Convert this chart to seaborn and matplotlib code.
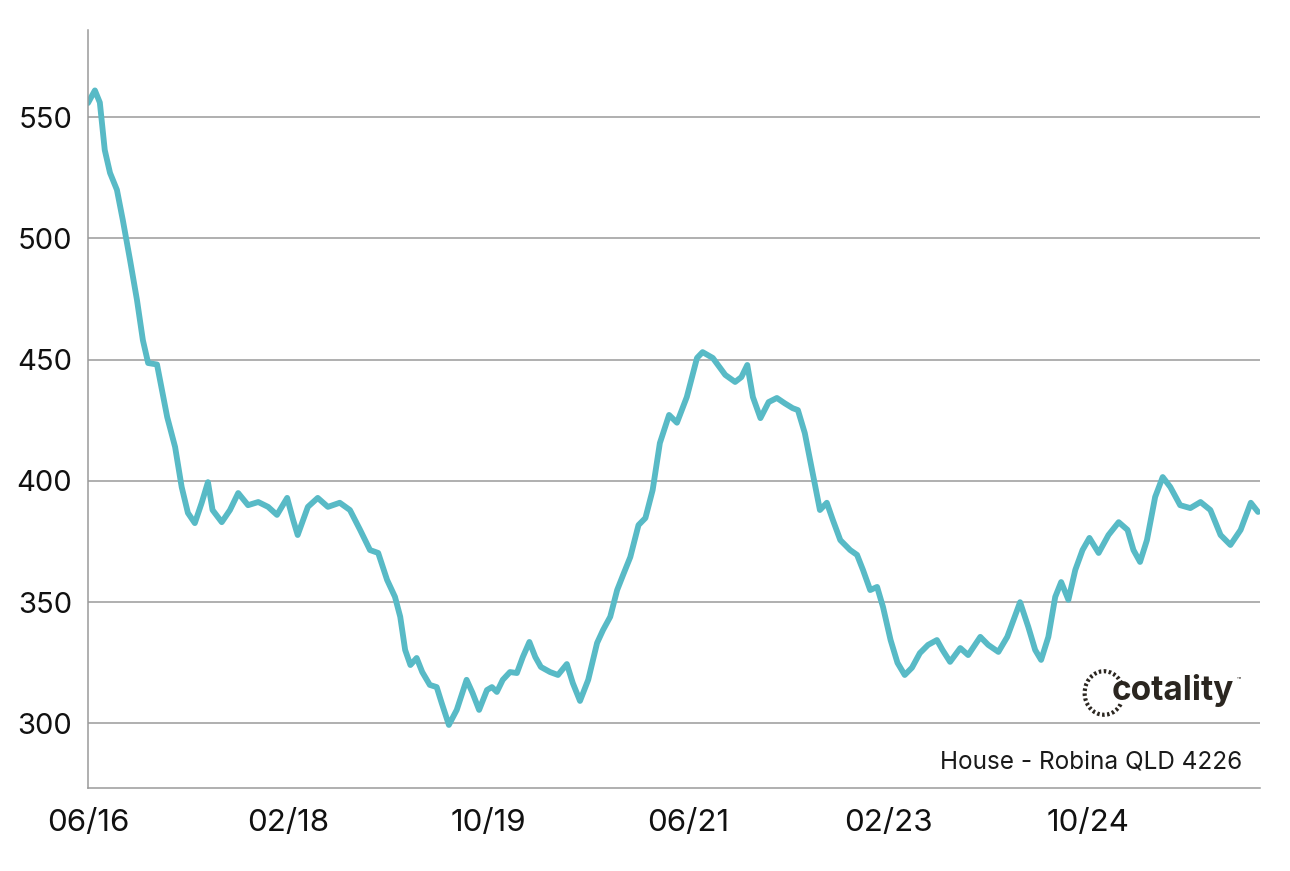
import matplotlib
matplotlib.use("Agg")
import matplotlib.pyplot as plt
from matplotlib.patches import Arc
import seaborn as sns
import pandas as pd

dates = [
    "2016-06-01", "2016-06-22", "2016-07-07", "2016-07-22", "2016-08-07", "2016-08-28",
    "2016-09-15", "2016-10-07", "2016-10-28", "2016-11-15", "2016-12-01", "2016-12-28",
    "2017-01-28", "2017-02-21", "2017-03-13", "2017-04-01", "2017-04-22", "2017-05-13",
    "2017-06-01", "2017-06-15", "2017-07-13", "2017-08-07", "2017-09-01", "2017-10-01",
    "2017-11-01", "2017-12-01", "2017-12-28", "2018-01-28", "2018-02-15", "2018-03-01",
    "2018-04-01", "2018-05-01", "2018-06-01", "2018-07-07", "2018-08-07", "2018-09-07",
    "2018-10-07", "2018-11-01", "2018-11-28", "2018-12-22", "2019-01-07", "2019-01-22",
    "2019-02-07", "2019-02-26", "2019-03-15", "2019-04-07", "2019-04-28", "2019-05-13",
    "2019-06-04", "2019-06-28", "2019-07-28", "2019-08-15", "2019-09-04", "2019-09-28",
    "2019-10-13", "2019-10-28", "2019-11-15", "2019-12-07", "2019-12-28", "2020-01-15",
    "2020-02-04", "2020-02-22", "2020-03-10", "2020-04-07", "2020-05-01", "2020-05-28",
    "2020-06-15", "2020-07-07", "2020-08-01", "2020-08-28", "2020-09-15", "2020-10-07",
    "2020-10-28", "2020-11-15", "2020-12-07", "2021-01-01", "2021-01-22", "2021-02-13",
    "2021-03-07", "2021-04-04", "2021-04-28", "2021-05-28", "2021-06-28", "2021-07-15",
    "2021-08-15", "2021-09-22", "2021-10-22", "2021-11-10", "2021-11-28", "2021-12-15",
    "2022-01-07", "2022-02-01", "2022-02-26", "2022-03-22", "2022-04-15", "2022-05-01",
    "2022-05-22", "2022-06-13", "2022-07-07", "2022-07-28", "2022-08-15", "2022-09-07",
    "2022-10-07", "2022-10-28", "2022-11-15", "2022-12-07", "2022-12-28", "2023-01-15",
    "2023-02-07", "2023-02-28", "2023-03-22", "2023-04-13", "2023-05-07", "2023-06-01",
    "2023-06-28", "2023-07-15", "2023-08-07", "2023-09-07", "2023-10-01", "2023-11-07",
    "2023-12-01", "2024-01-01", "2024-01-28", "2024-03-07", "2024-04-01", "2024-04-22",
    "2024-05-10", "2024-06-01", "2024-06-22", "2024-07-10", "2024-08-01", "2024-08-22",
    "2024-09-13", "2024-10-04", "2024-11-01", "2024-12-01", "2025-01-01", "2025-01-28",
    "2025-02-15", "2025-03-07", "2025-03-28", "2025-04-22", "2025-05-15", "2025-06-07",
    "2025-07-07", "2025-08-07", "2025-09-07", "2025-10-07", "2025-11-07", "2025-12-07",
    "2026-01-07", "2026-02-07", "2026-03-01",
]
rents = [
    555.8, 561.0, 556.0, 536.4, 527.0, 520.0,
    507.5, 491.0, 474.6, 458.0, 448.6, 448.0,
    426.3, 414.0, 397.5, 386.8, 382.6, 391.0,
    399.5, 388.0, 383.0, 388.0, 395.0, 390.0,
    391.3, 389.3, 386.0, 393.0, 384.0, 377.7,
    389.3, 393.0, 389.3, 391.0, 388.0, 379.8,
    371.5, 370.3, 359.2, 352.2, 344.0, 330.3,
    324.1, 327.0, 321.2, 315.9, 315.0, 308.5,
    299.4, 305.6, 318.0, 312.6, 305.6, 313.8,
    315.0, 313.0, 318.0, 321.2, 320.8, 327.4,
    333.6, 327.4, 323.3, 321.2, 320.0, 324.5,
    316.7, 309.3, 318.0, 333.2, 338.5, 344.0,
    355.0, 361.2, 368.6, 381.8, 384.7, 396.2,
    415.6, 427.2, 424.0, 434.6, 450.7, 453.1,
    450.7, 443.7, 440.8, 442.8, 447.8, 434.6,
    425.9, 432.5, 434.2, 432.0, 430.0, 429.2,
    419.7, 404.5, 388.0, 391.0, 384.0, 375.6,
    371.5, 369.5, 363.3, 355.0, 356.3, 348.0,
    334.4, 325.0, 320.0, 323.0, 329.0, 332.4,
    334.4, 330.3, 325.4, 331.1, 328.2, 335.7,
    332.4, 329.5, 335.7, 350.0, 339.8, 330.3,
    326.2, 335.7, 352.2, 358.3, 351.0, 363.3,
    371.5, 376.5, 370.3, 377.7, 383.0, 379.8,
    371.5, 366.6, 375.6, 393.4, 401.6, 397.5,
    390.0, 388.8, 391.3, 388.0, 377.7, 373.6,
    379.8, 391.0, 387.2,
]
tick_dates = ["2016-06-01", "2018-02-01", "2019-10-01", "2021-06-01", "2023-02-01", "2024-10-01"]
tick_labels = ["06/16", "02/18", "10/19", "06/21", "02/23", "10/24"]
y_ticks = [300, 350, 400, 450, 500, 550]
caption = "House - Robina QLD 4226"

df = pd.DataFrame({"date": pd.to_datetime(dates), "rent": rents})

sns.set_theme(style="white")
plt.rcParams["font.family"] = ["Inter", "DejaVu Sans"]

fig = plt.figure(figsize=(12.9, 8.71), dpi=100)
ax = fig.add_axes([88 / 1290, 1 - 788 / 871, (1260 - 88) / 1290, (788 - 30) / 871])

sns.lineplot(data=df, x="date", y="rent", ax=ax, color="#58BAC6", linewidth=4.2,
             solid_capstyle="round", solid_joinstyle="round")

ax.set_xlim(pd.Timestamp("2016-06-01"), pd.Timestamp("2026-03-07"))
ax.set_ylim(273.4, 585.9)
ax.set_yticks(y_ticks)
ax.set_yticklabels([str(v) for v in y_ticks])
ax.set_xticks(pd.to_datetime(tick_dates))
ax.set_xticklabels(tick_labels)
ax.set_xlabel("")
ax.set_ylabel("")

ax.yaxis.grid(True, color="#9a9a9a", linewidth=1.1)
ax.xaxis.grid(False)
ax.set_axisbelow(True)
for side in ["top", "right"]:
    ax.spines[side].set_visible(False)
for side in ["left", "bottom"]:
    ax.spines[side].set_color("#9a9a9a")
    ax.spines[side].set_linewidth(1.1)
ax.tick_params(axis="both", length=0, colors="#111111")
ax.tick_params(axis="x", pad=15, labelsize=22.5)
ax.tick_params(axis="y", pad=11.5, labelsize=21)

ax.text(0.985, 0.018, caption, transform=ax.transAxes, ha="right", va="bottom",
        fontsize=17.5, color="#1a1a1a")

# logo
ax.text(0.978, 0.128, "cotality", transform=ax.transAxes, ha="right", va="center",
        fontsize=24, fontweight="bold", color="#2b2620")
ax.text(0.980, 0.140, "\u2122", transform=ax.transAxes, ha="left", va="bottom",
        fontsize=5, color="#2b2620")
arc = Arc((1104 / 1290, 1 - 693 / 871), 0.03, 0.05, theta1=40, theta2=320,
          transform=fig.transFigure, color="#2b2620", linewidth=3, linestyle=(0, (0.6, 0.6)))
fig.add_artist(arc)

fig.savefig("out.png", dpi=100, facecolor="white")
